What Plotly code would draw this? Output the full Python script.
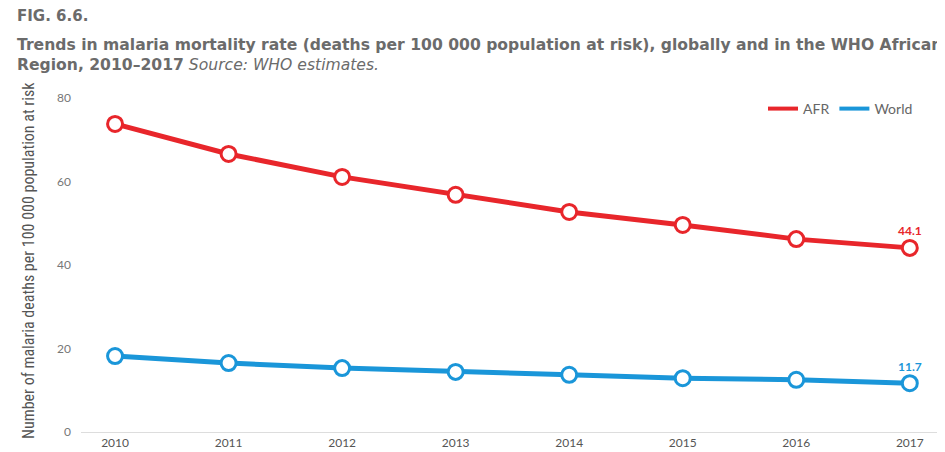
import plotly.graph_objects as go

years = [2010, 2011, 2012, 2013, 2014, 2015, 2016, 2017]
afr = [73.8, 66.6, 61.1, 56.8, 52.7, 49.6, 46.2, 44.1]
world = [18.2, 16.5, 15.3, 14.4, 13.7, 12.9, 12.5, 11.7]
y_ticks = [0, 20, 40, 60, 80]

RED = "#E8262B"
BLUE = "#1A96D9"
GREY = "#6b6b6b"
FONT = "Lato"

OFF = 8  # page body margin
W, H = 945 - OFF, 452 - OFF
L, R, T, B = 81 - OFF, 0, 98 - OFF, 20
PW, PH = W - L - R, H - T - B


def px(x):
    return (x - OFF - L) / PW


def py(y):
    return (H - B - (y - OFF)) / PH


fig = go.Figure()
for name, vals, col in [("AFR", afr, RED), ("World", world, BLUE)]:
    fig.add_trace(go.Scatter(
        x=years, y=vals, mode="lines+markers", name=name, showlegend=False,
        line=dict(color=col, width=5),
        marker=dict(symbol="circle", size=15, color="white", line=dict(color=col, width=3)),
        hoverinfo="x+y",
    ))
    fig.add_trace(go.Scatter(
        x=[None], y=[None], mode="lines", name=name,
        line=dict(color=col, width=4),
    ))
    fig.add_annotation(
        x=years[-1], y=vals[-1], text=f"<b>{vals[-1]}</b>", showarrow=False,
        yshift=17, font=dict(family=FONT, size=12, color=col),
    )

fig.add_annotation(
    xref="paper", yref="paper", x=px(28), y=py(261), xanchor="center", yanchor="middle",
    textangle=-90,
    text="Number of malaria deaths per 100 000 population at risk",
    showarrow=False,
    font=dict(family="Roboto Condensed, Liberation Sans Narrow, Lato", size=16, color="#555555"),
)

fig.update_layout(
    width=W, height=H,
    margin=dict(l=L, r=R, t=T, b=B),
    paper_bgcolor="white", plot_bgcolor="white",
    font=dict(family=FONT, color="#777777", size=12),
    title=dict(
        text="<b>FIG. 6.6.</b>",
        xref="container", yref="container", x=(17 - OFF) / W, xanchor="left",
        y=0.995, yanchor="top",
        pad=dict(t=0, l=0),
        font=dict(family="DejaVu Sans", size=15, color=GREY),
        subtitle=dict(
            text="<b>Trends in malaria mortality rate (deaths per 100 000 population at risk), globally and in the WHO African</b><br>"
                 "<b>Region, 2010–2017</b> <i>Source: WHO estimates.</i>",
            font=dict(family="DejaVu Sans", size=15.6, color=GREY),
        ),
    ),
    legend=dict(orientation="h", x=px(918), xanchor="right", y=py(109), yanchor="middle",
                font=dict(family=FONT, size=14, color="#666666"),
                bgcolor="rgba(0,0,0,0)"),
    xaxis=dict(range=[2009.7, 2017.31], tickmode="array", tickvals=years,
               showgrid=False, zeroline=False, showline=True, linecolor="#dddddd",
               linewidth=1, ticks="", automargin=False, ticklabelstandoff=0,
               tickfont=dict(size=12, color="#555555")),
    yaxis=dict(range=[0, 80], tickmode="array", tickvals=y_ticks, showgrid=False,
               zeroline=False, showline=False, ticks="", ticklabelstandoff=9,
               automargin=False,
               tickfont=dict(size=12, color="#777777")),
)

fig.write_html("out.html")
